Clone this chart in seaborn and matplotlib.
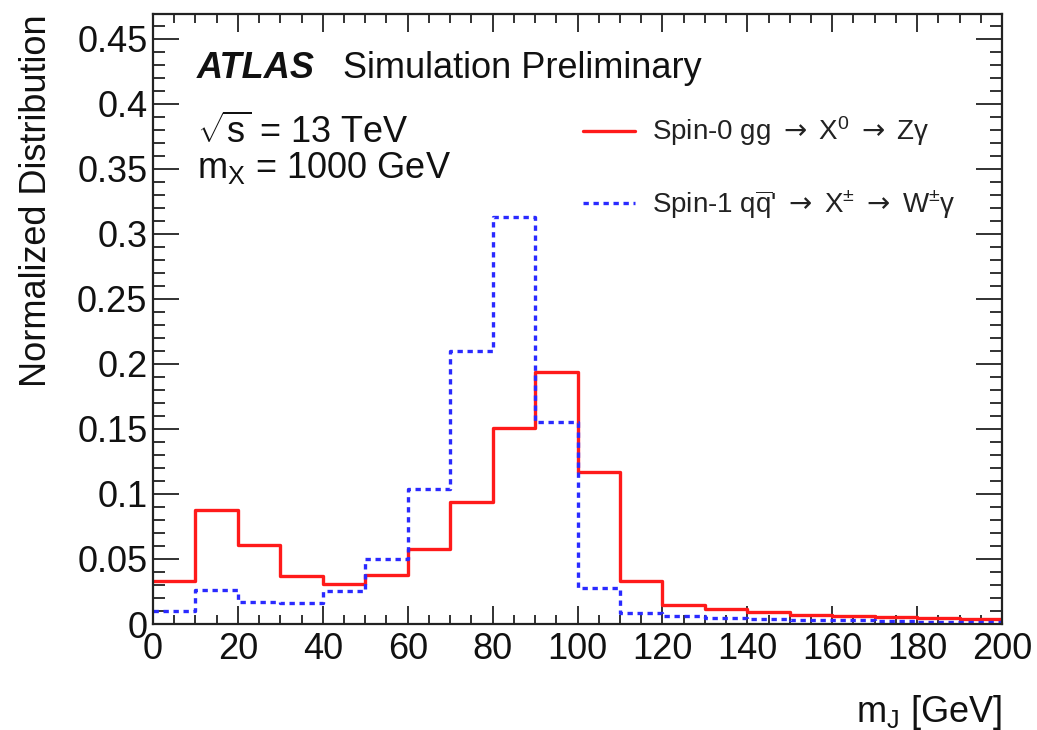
import numpy as np
import pandas as pd
import matplotlib
matplotlib.use("Agg")
import matplotlib.pyplot as plt
from matplotlib.lines import Line2D
from matplotlib.ticker import MultipleLocator
import seaborn as sns

# ---- data (bin contents, 10 GeV bins 0-200) ----
bin_edges = list(range(0, 210, 10))
spin0_values = [0.033, 0.088, 0.061, 0.037, 0.031, 0.038, 0.058, 0.094, 0.151, 0.194,
                0.117, 0.033, 0.0145, 0.0115, 0.009, 0.0072, 0.0063, 0.0055, 0.0046, 0.0036]
spin1_values = [0.010, 0.026, 0.017, 0.0165, 0.025, 0.050, 0.104, 0.210, 0.313, 0.155,
                0.028, 0.0082, 0.0062, 0.0049, 0.004, 0.0032, 0.0027, 0.0022, 0.0017, 0.0013]
spin0_label = "Spin-0 gg $\\mathsf{\\rightarrow}$ X$^{0}$ $\\mathsf{\\rightarrow}$ Z\u03b3"
spin1_label = "Spin-1 q$\\overline{\\mathrm{q}}$' $\\mathsf{\\rightarrow}$ X$^{\\pm}$ $\\mathsf{\\rightarrow}$ W$^{\\pm}$\u03b3"
x_ticks = [0, 20, 40, 60, 80, 100, 120, 140, 160, 180, 200]
y_ticks = [0, 0.05, 0.1, 0.15, 0.2, 0.25, 0.3, 0.35, 0.4, 0.45]
y_tick_labels = ["0", "0.05", "0.1", "0.15", "0.2", "0.25", "0.3", "0.35", "0.4", "0.45"]

centers = [(a + b) / 2 for a, b in zip(bin_edges[:-1], bin_edges[1:])]
df0 = pd.DataFrame({"mJ": centers, "w": spin0_values})
df1 = pd.DataFrame({"mJ": centers, "w": spin1_values})

sns.set_theme(style="ticks")
plt.rcParams["font.family"] = ["Liberation Sans", "DejaVu Sans"]
plt.rcParams["mathtext.fontset"] = "custom"
plt.rcParams["mathtext.rm"] = "Liberation Sans"
plt.rcParams["mathtext.it"] = "Liberation Sans:italic"
plt.rcParams["mathtext.bf"] = "Liberation Sans:bold"
plt.rcParams["mathtext.sf"] = "DejaVu Sans"

W, H = 1037, 730
fig = plt.figure(figsize=(W / 100, H / 100), dpi=100)
x0, x1, ytop, ybot = 153, 1002, 14, 624
ax = fig.add_axes([x0 / W, 1 - ybot / H, (x1 - x0) / W, (ybot - ytop) / H])

red = "#ff1a1a"
blue = "#2a2aff"
sns.histplot(data=df0, x="mJ", weights="w", bins=bin_edges, element="step",
             fill=False, color=red, linewidth=2.4, ax=ax)
sns.histplot(data=df1, x="mJ", weights="w", bins=bin_edges, element="step",
             fill=False, color=blue, linewidth=2.4, linestyle=(0, (1.6, 1.4)), ax=ax)

ax.set_xlim(0, 200)
ax.set_ylim(0, 0.469)
ax.set_xticks(x_ticks)
ax.set_xticklabels([str(t) for t in x_ticks])
ax.set_yticks(y_ticks)
ax.set_yticklabels(y_tick_labels)
ax.xaxis.set_minor_locator(MultipleLocator(5))
ax.yaxis.set_minor_locator(MultipleLocator(0.01))

ax.tick_params(axis="both", which="both", direction="in", top=True, right=True,
               width=1.3, color="#222222", labelsize=26, labelcolor="#111111")
ax.tick_params(axis="x", which="major", length=13, pad=6)
ax.tick_params(axis="x", which="minor", length=6.5)
ax.tick_params(axis="y", which="major", length=18.5, pad=4)
ax.tick_params(axis="y", which="minor", length=8.5)
for s in ax.spines.values():
    s.set_linewidth(1.6)
    s.set_color("#222222")
    s.set_visible(True)

ax.set_xlabel("m$_{\\mathrm{J}}$ [GeV]", fontsize=26, color="#111111")
ax.xaxis.set_label_coords(1.0, -0.145)
ax.xaxis.label.set_horizontalalignment("right")
ax.xaxis.label.set_verticalalignment("center")
ax.set_ylabel("Normalized Distribution", fontsize=26, color="#111111")
ax.yaxis.set_label_coords(-0.137, 1.0)
ax.yaxis.label.set_verticalalignment("center")
ax.yaxis.label.set_horizontalalignment("right")

# ATLAS label and annotations
ax.text(0.0518, 0.911, "ATLAS", transform=ax.transAxes, fontsize=26,
        fontweight="bold", fontstyle="italic", va="center", ha="left", color="#111111")
ax.text(0.2238, 0.911, "Simulation Preliminary", transform=ax.transAxes,
        fontsize=26, va="center", ha="left", color="#111111")
ax.text(0.0518, 0.806, "$\\sqrt{\\mathrm{s}}$ = 13 TeV", transform=ax.transAxes,
        fontsize=26, va="center", ha="left", color="#111111")
ax.text(0.0518, 0.748, "m$_{\\mathrm{X}}$ = 1000 GeV", transform=ax.transAxes,
        fontsize=26, va="center", ha="left", color="#111111")

handles = [Line2D([], [], color=red, linewidth=2.4),
           Line2D([], [], color=blue, linewidth=2.4, linestyle=(0, (1.6, 1.4)))]
leg = ax.legend(handles, [spin0_label, spin1_label], loc="upper left",
                bbox_to_anchor=(0.506, 0.835), frameon=False, fontsize=20,
                handlelength=1.9, handletextpad=0.6, labelspacing=1.45,
                borderpad=0, borderaxespad=0)
for t in leg.get_texts():
    t.set_color("#222222")

fig.savefig("out.png", dpi=100)
